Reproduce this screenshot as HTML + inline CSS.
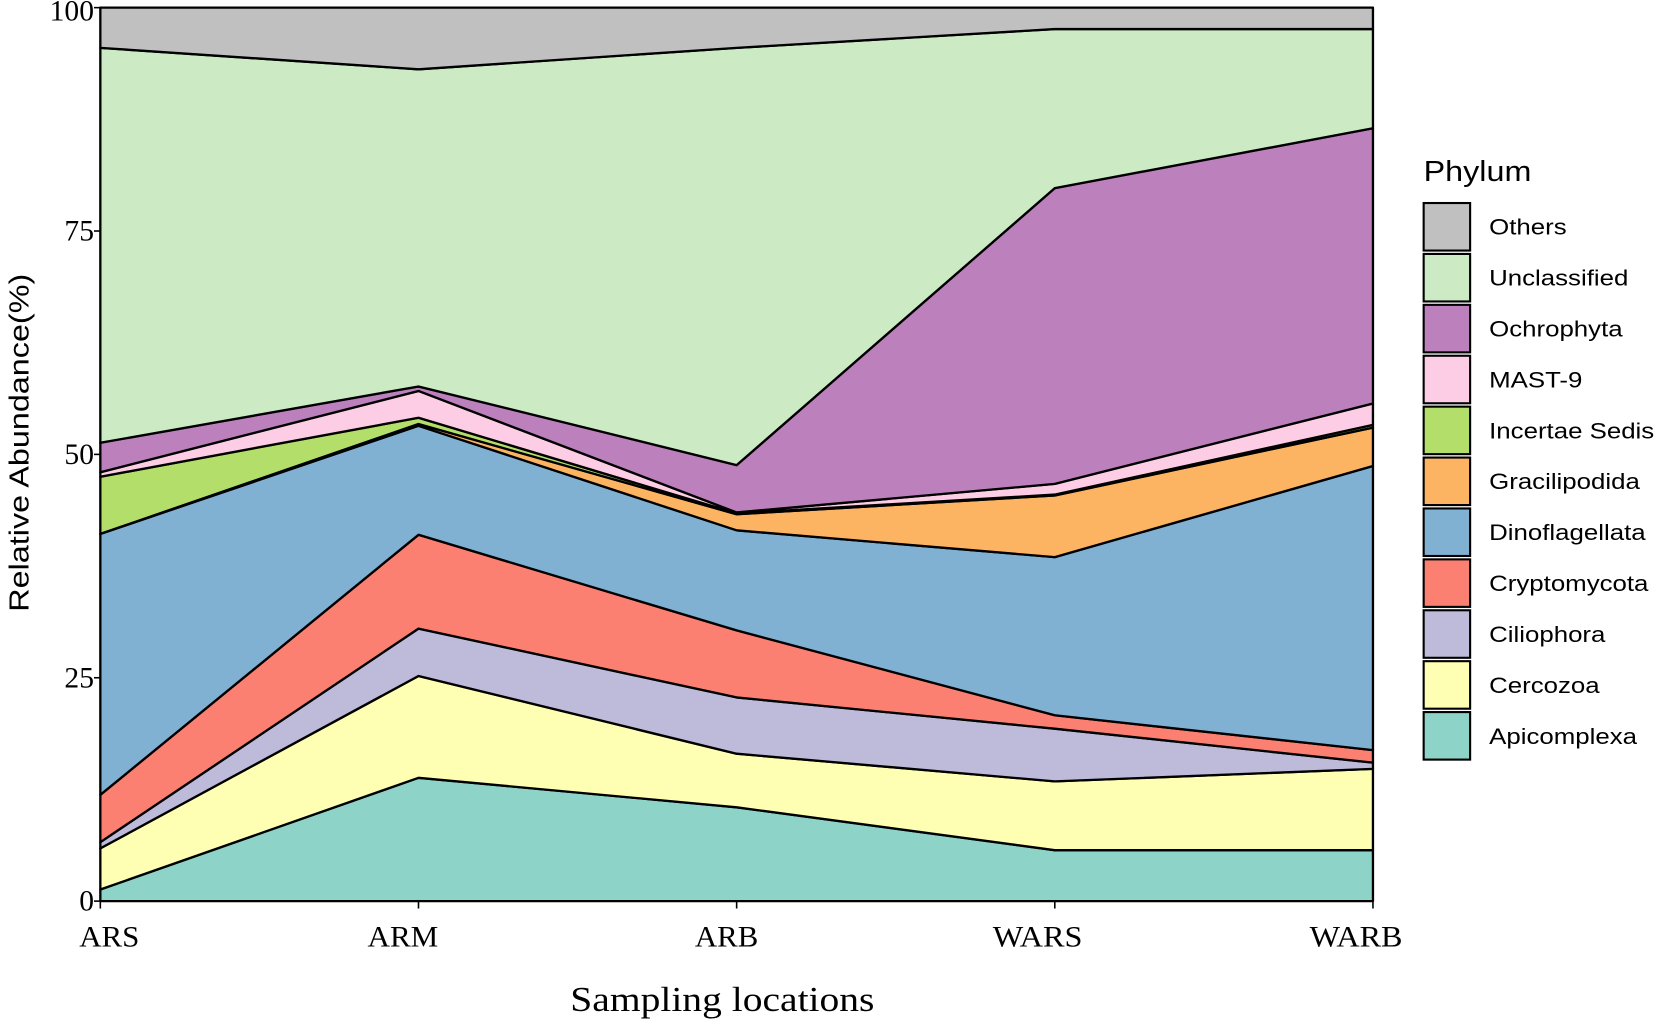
<!DOCTYPE html>
<html><head><meta charset="utf-8"><style>body{margin:0;background:#fff}svg{display:block}</style></head>
<body>
<svg width="1656" height="1026" viewBox="0 0 1568 971" xmlns="http://www.w3.org/2000/svg">
<g id="areas"></g>
<g id="axes"></g>
<g id="legend"></g>
</svg>
<script>
const categories = ["ARS","ARM","ARB","WARS","WARB"];
const seriesNames = ["Apicomplexa","Cercozoa","Ciliophora","Cryptomycota","Dinoflagellata","Gracilipodida","Incertae Sedis","MAST-9","Ochrophyta","Unclassified","Others"];
const apicomplexa   = [1.3, 13.8, 10.5, 5.7, 5.7];
const cercozoa      = [4.6, 11.4, 6.0, 7.7, 9.1];
const ciliophora    = [0.7, 5.3, 6.3, 5.9, 0.7];
const cryptomycota  = [5.3, 10.5, 7.5, 1.5, 1.4];
const dinoflagellata= [29.2, 12.2, 11.2, 17.7, 31.8];
const gracilipodida = [0.0, 0.2, 1.8, 6.9, 4.3];
const incertaeSedis = [6.4, 0.7, 0.1, 0.1, 0.3];
const mast9         = [0.5, 3.0, 0.1, 1.2, 2.4];
const ochrophyta    = [3.3, 0.5, 5.3, 33.1, 30.8];
const unclassified  = [44.2, 35.5, 46.7, 17.8, 11.1];
const others        = [4.5, 6.9, 4.5, 2.4, 2.4];
const yTicks = [0, 25, 50, 75, 100];
const colors = ["#8dd3c7","#ffffb3","#bebada","#fb8072","#80b1d3","#fdb462","#b3de69","#fccde5","#bc80bd","#ccebc5","#c0c0c0"];
const series = [apicomplexa,cercozoa,ciliophora,cryptomycota,dinoflagellata,gracilipodida,incertaeSedis,mast9,ochrophyta,unclassified,others];

const X0=95, X1=1300, Y0=853, Y1=7;
const xs = i => X0 + (X1-X0)*i/(categories.length-1);
const ys = v => Y0 - (Y0-Y1)*v/100;
const NS="http://www.w3.org/2000/svg";
function mk(tag, attrs, parent){const e=document.createElementNS(NS,tag);for(const k in attrs)e.setAttribute(k,attrs[k]);parent.appendChild(e);return e;}

const areas=document.getElementById('areas');
let base=categories.map(()=>0);
series.forEach((s,k)=>{
  const top=base.map((b,i)=>b+s[i]);
  let d='M'+top.map((v,i)=>xs(i)+','+ys(v)).join(' L');
  for(let i=categories.length-1;i>=0;i--) d+=' L'+xs(i)+','+ys(base[i]);
  const p=mk('path',{d:d+' Z',fill:colors[k],stroke:'#000','stroke-width':2.2,'stroke-linejoin':'round'},areas);
  
  
  base=top;
});

const axes=document.getElementById('axes');
mk('rect',{x:X0,y:Y1,width:X1-X0,height:Y0-Y1,fill:'none',stroke:'#000','stroke-width':1.5},axes);
const tf='"Liberation Serif", serif';
yTicks.forEach(v=>{
  const y=ys(v);
  const l=mk('line',{x1:X0-6,x2:X0,y1:y,y2:y,stroke:'#000','stroke-width':1.5},axes);
  
  
  const t=mk('text',{x:X0-6,y:y+(v===100?12:9),'text-anchor':'end','font-family':tf,'font-size':28},axes);
  t.textContent=v;
  
  
});
const xLabelLeft=[75,348,658,940,1240];
const xLabelWidth=[57,67,60,85,88];
categories.forEach((c,i)=>{
  const x=xs(i);
  const l=mk('line',{x1:x,x2:x,y1:Y0,y2:Y0+7,stroke:'#000','stroke-width':1.5},axes);
  
  
  const t=mk('text',{x:xLabelLeft[i],y:Y0+43,'font-family':tf,'font-size':28,textLength:xLabelWidth[i],lengthAdjust:'spacingAndGlyphs'},axes);
  t.textContent=c;
  
  
});
const xt=mk('text',{x:540,y:957,'font-family':tf,'font-size':33,textLength:288,lengthAdjust:'spacingAndGlyphs'},axes);
xt.textContent='Sampling locations';


const yt=mk('text',{x:-160,y:0,'font-family':'"Liberation Sans", sans-serif','font-size':26,textLength:320,lengthAdjust:'spacingAndGlyphs',transform:'translate(27,419) rotate(-90)'},axes);
yt.textContent='Relative Abundance(%)';



const lg=document.getElementById('legend');
const lt=mk('text',{x:1348,y:171,'font-family':'"Liberation Sans", sans-serif','font-size':27,textLength:102,lengthAdjust:'spacingAndGlyphs'},lg);
lt.textContent='Phylum';


for(let k=series.length-1,j=0;k>=0;k--,j++){
  const y=192+j*48.2;
  const r=mk('rect',{x:1348,y:y,width:44,height:45,fill:colors[k],stroke:'#000','stroke-width':2},lg);
  
  
  const t=mk('text',{x:0,y:0,'font-family':'"Liberation Sans", sans-serif','font-size':21,transform:'translate(1410,'+(y+30)+') scale(1.165,1)'},lg);
  t.textContent=seriesNames[k];
  
  
}
</script>
</body></html>
